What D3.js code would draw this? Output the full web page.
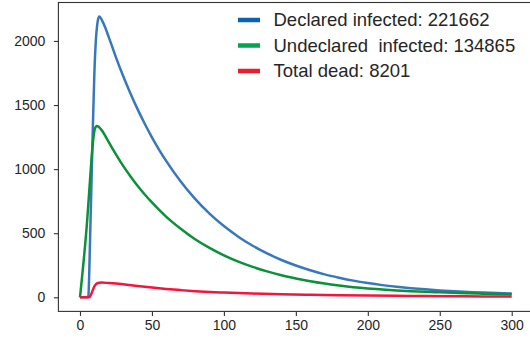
<!DOCTYPE html>
<html>
<head>
<meta charset="utf-8">
<script src="https://cdn.jsdelivr.net/npm/d3@7"></script>
<style>
  body { margin: 0; background: #fff; }
  svg { display: block; }
</style>
</head>
<body>
<svg id="chart" width="530" height="339"></svg>
<script>
// Daily epidemic curves (day -> people)
const declaredDays   = [0, 5, 5.8, 7, 8, 9, 10, 11, 12, 13.3, 16, 20, 25, 30, 35, 40, 45, 50, 55, 60, 70, 80, 90, 100, 110, 120, 130, 140, 150, 160, 170, 180, 190, 200, 210, 220, 230, 240, 250, 260, 270, 280, 290, 300];
const declaredValues = [0, 0, 10, 450, 900, 1350, 1750, 2000, 2130, 2190, 2145, 2030, 1872, 1726, 1592, 1468, 1354, 1248, 1151, 1062, 903, 768, 653, 556, 473, 402, 342, 291, 248, 211, 179, 153, 130, 111, 95, 82, 71, 62, 54, 47, 42, 37, 33, 30];

const undeclaredDays   = [0, 5, 7.5, 8.5, 9.5, 10.5, 11.6, 13, 15, 20, 25, 30, 35, 40, 45, 50, 55, 60, 70, 80, 90, 100, 110, 120, 130, 140, 150, 160, 170, 180, 190, 200, 210, 220, 230, 240, 250, 260, 270, 280, 290, 300];
const undeclaredValues = [0, 600, 1000, 1150, 1260, 1320, 1337, 1330, 1305, 1210, 1115, 1025, 945, 870, 802, 740, 682, 628, 535, 453, 385, 327, 278, 237, 202, 172, 147, 125, 107, 92, 79, 69, 61, 54, 48, 43, 39, 35, 31, 28, 25, 23];

const deadDays   = [0, 6.5, 8, 10, 12, 15, 20, 30, 40, 50, 60, 70, 80, 90, 100, 120, 140, 160, 180, 200, 220, 240, 260, 280, 300];
const deadValues = [0, 0, 30, 85, 110, 115, 111, 101, 88, 76, 65, 56, 48, 42, 37, 29, 23.5, 19.5, 16, 13.5, 11.5, 9.5, 8, 6.5, 5.5];

const legendLabels = ["Declared infected: 221662", "Undeclared  infected: 134865", "Total dead: 8201"];
const lineColors   = ["#3778bd", "#0b9139", "#f5143c"];
const legendColors = ["#0a62b0", "#00a650", "#ec1c2c"];

const xTicks = [0, 50, 100, 150, 200, 250, 300];
const yTicks = [0, 500, 1000, 1500, 2000];

const svg = d3.select("#chart");

const x = d3.scaleLinear().domain([-15, 315]).range([58.4, 533.3]);
const y = d3.scaleLinear().domain([-110, 2300]).range([311.4, 2.5]);

const series = [
  { days: declaredDays, values: declaredValues },
  { days: undeclaredDays, values: undeclaredValues },
  { days: deadDays, values: deadValues }
];

const line = d3.line()
  .x(d => x(d[0]))
  .y(d => y(d[1]))
  .curve(d3.curveMonotoneX);

// curves
series.forEach((s, i) => {
  svg.append("path")
    .datum(d3.zip(s.days, s.values))
    .attr("fill", "none")
    .attr("stroke", lineColors[i])
    .attr("stroke-width", 2.5)
    .attr("stroke-linejoin", "round")
    .attr("stroke-linecap", "butt")
    .attr("d", line);
});

// frame
const [x0, x1] = x.range();
const [y0, y1] = y.range();
svg.append("rect")
  .attr("x", x0).attr("y", y1)
  .attr("width", x1 - x0).attr("height", y0 - y1)
  .attr("fill", "none")
  .attr("stroke", "#333")
  .attr("stroke-width", 1.1);

// axes
const xAxis = d3.axisBottom(x).tickValues(xTicks).tickSize(4.5).tickPadding(4).tickFormat(d3.format("d"));
const yAxis = d3.axisLeft(y).tickValues(yTicks).tickSize(4.5).tickPadding(8.5).tickFormat(d3.format("d"));

const gx = svg.append("g").attr("transform", `translate(0,${y0})`).call(xAxis);
const gy = svg.append("g").attr("transform", `translate(${x0},0)`).call(yAxis);

[gx, gy].forEach(g => {
  g.select(".domain").remove();
  g.selectAll(".tick line").attr("stroke", "#333").attr("stroke-width", 1.1);
  g.selectAll(".tick text")
    .attr("fill", "#262626")
    .style("font-family", "'Liberation Sans', Arial, sans-serif")
    .style("font-size", "14px");
});

// legend
const legend = svg.append("g").attr("transform", "translate(238,20)");
legendLabels.forEach((label, i) => {
  const row = legend.append("g").attr("transform", `translate(0,${i * 25.5})`);
  row.append("line")
    .attr("x1", 0).attr("x2", 22)
    .attr("y1", 0).attr("y2", 0)
    .attr("stroke", legendColors[i])
    .attr("stroke-width", 4.5);
  row.append("text")
    .attr("x", 35.5)
    .attr("y", 0)
    .attr("dy", "0.35em")
    .attr("fill", "#262626")
    .attr("xml:space", "preserve")
    .style("white-space", "pre")
    .style("font-family", "'Liberation Sans', Arial, sans-serif")
    .style("font-size", "18.5px")
    .text(label);
});
</script>
</body>
</html>
